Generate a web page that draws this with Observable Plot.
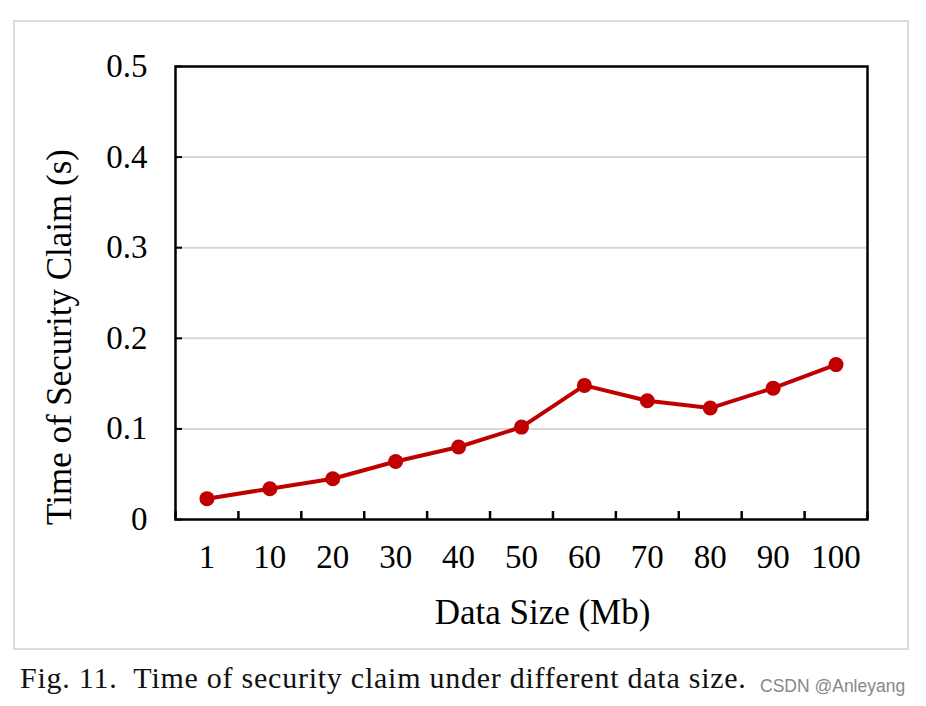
<!DOCTYPE html>
<html>
<head>
<meta charset="utf-8">
<script src="https://cdn.jsdelivr.net/npm/d3@7"></script>
<script src="https://cdn.jsdelivr.net/npm/@observablehq/plot@0.6"></script>
<style>
  body { margin: 0; background: #fff; }
  #wrap { position: relative; width: 926px; height: 706px; }
  #box { position: absolute; left: 13px; top: 20px; width: 892px; height: 626px; border: 2px solid #dcdcdc; pointer-events: none; }
  #caption { position: absolute; left: 20px; top: 661px; font-family: "Liberation Serif", serif; font-size: 30px; letter-spacing: 0.75px; color: #111; white-space: pre; }
  #mark { position: absolute; left: 760px; top: 676px; font-family: "Liberation Sans", sans-serif; font-size: 17.5px; color: #888; }
</style>
</head>
<body>
<div id="wrap">
  <div id="chart"></div>
  <div id="box"></div>
  <div id="caption">Fig. 11.  Time of security claim under different data size.</div>
  <div id="mark">CSDN @Anleyang</div>
</div>
<script>
const categories = ["1", "10", "20", "30", "40", "50", "60", "70", "80", "90", "100"];
const values = [0.023, 0.034, 0.045, 0.064, 0.080, 0.102, 0.148, 0.131, 0.123, 0.145, 0.171];
const yTicks = [0, 0.1, 0.2, 0.3, 0.4, 0.5];
const yTickLabels = ["0", "0.1", "0.2", "0.3", "0.4", "0.5"];
const gridValues = [0.1, 0.2, 0.3, 0.4];
const xTitle = "Data Size (Mb)";
const yTitle = "Time of Security Claim (s)";

const data = categories.map((c, i) => ({pos: i + 0.5, cat: c, v: values[i]}));
const boundaries = d3.range(0, categories.length + 1);
const labelPos = categories.map((c, i) => i + 0.5);

const font = "Liberation Serif, serif";
const red = "#c00000";

const chart = Plot.plot({
  width: 926,
  height: 655,
  marginLeft: 175,
  marginRight: 59,
  marginTop: 66,
  marginBottom: 136,
  style: {fontFamily: font, fontSize: "33px", color: "#000", background: "transparent"},
  x: {type: "linear", domain: [0, categories.length]},
  y: {type: "linear", domain: [0, 0.5]},
  marks: [
    Plot.ruleY(gridValues, {stroke: "#d9d9d9", strokeWidth: 2}),
    Plot.axisY({ticks: yTicks, tickSize: -7, tickFormat: () => "", strokeWidth: 2, label: null}),
    Plot.axisY({ticks: yTicks, tickSize: 0, tickPadding: 28, tickFormat: (d) => yTickLabels[yTicks.indexOf(d)], fontSize: 33, label: null}),
    Plot.axisX({ticks: boundaries, tickSize: -8, tickFormat: () => "", strokeWidth: 2.5, label: null}),
    Plot.axisX({ticks: labelPos, tickSize: 0, tickPadding: 25, tickFormat: (d) => categories[Math.round(d - 0.5)], fontSize: 33, label: null}),
    Plot.frame({stroke: "#000", strokeWidth: 2.5}),
    Plot.line(data, {x: "pos", y: "v", stroke: red, strokeWidth: 4}),
    Plot.dot(data, {x: "pos", y: "v", r: 7.5, fill: red, stroke: "none"}),
    Plot.text([xTitle], {frameAnchor: "bottom", textAnchor: "middle", dx: 21, dy: 104, fontSize: 35, fill: "#000", style: "letter-spacing:1.2px"}),
    Plot.text([yTitle], {frameAnchor: "left", textAnchor: "middle", rotate: -90, dx: -116, dy: 44, fontSize: 35, fill: "#000", style: "letter-spacing:1.2px"})
  ]
});
document.getElementById("chart").appendChild(chart);
</script>
</body>
</html>
